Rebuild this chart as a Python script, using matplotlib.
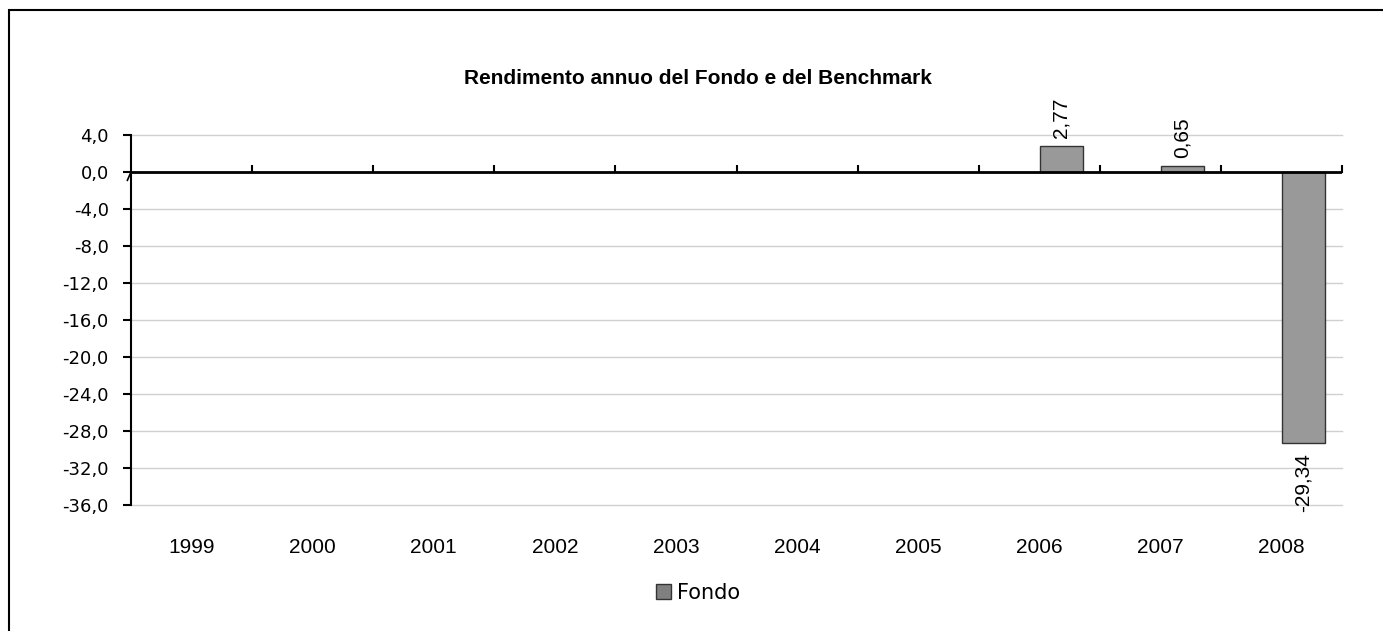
import numpy as np
import matplotlib
matplotlib.use("Agg")
import matplotlib.pyplot as plt
from matplotlib.patches import Rectangle

# dati
anni = ["1999", "2000", "2001", "2002", "2003", "2004", "2005", "2006", "2007", "2008"]
fondo = [np.nan, np.nan, np.nan, np.nan, np.nan, np.nan, np.nan, 2.77, 0.65, -29.34]
yticks = [4, 0, -4, -8, -12, -16, -20, -24, -28, -32, -36]

fig = plt.figure(figsize=(13.83, 6.31), dpi=100)
ax = fig.add_axes([131/1383, 1-505/631, (1342-131)/1383, (505-135)/631])

x = np.arange(len(anni))
barre = ax.bar(x + 0.18, fondo, width=0.355, color="#999999", edgecolor="#333333",
               linewidth=1, label="Fondo", zorder=3)

# etichette dei valori
for xi, v in zip(x, fondo):
    if np.isnan(v):
        continue
    testo = ("%.2f" % v).replace(".", ",")
    if v >= 0:
        ax.annotate(testo, (xi + 0.18, v), xytext=(0, 6), textcoords="offset points",
                    rotation=90, ha="center", va="bottom", fontsize=15, family="Liberation Sans")
    else:
        ax.annotate(testo, (xi + 0.18, v), xytext=(0, -7), textcoords="offset points",
                    rotation=90, ha="center", va="top", fontsize=15, family="Liberation Sans")

ax.set_xlim(-0.5, len(anni) - 0.5)
ax.set_ylim(-36, 4)
ax.set_yticks(yticks)
ax.set_yticklabels([("%.1f" % t).replace(".", ",") for t in yticks],
                   fontsize=13, family="DejaVu Sans")
ax.tick_params(axis="y", length=6, width=1.5, pad=10, direction="out")

for t in yticks:
    if t != 0:
        ax.axhline(t, color="#d0d0d0", lw=1, zorder=1, clip_on=False)

ax.set_xticks(x)
ax.set_xticklabels(anni, fontsize=15, family="Liberation Sans")
ax.tick_params(axis="x", length=0, pad=24)

for s in ["top", "right", "bottom"]:
    ax.spines[s].set_visible(False)
ax.spines["left"].set_linewidth(1.5)

# asse orizzontale sullo zero
sec = ax.secondary_xaxis((0 - (-36)) / 40)
sec.set_xticks(np.arange(0.5, len(anni), 1))
sec.set_xticklabels([])
sec.tick_params(axis="x", direction="out", length=5, width=1.5)
sec.spines["bottom"].set_linewidth(2)
ax.axhline(0, color="black", lw=2, zorder=4)
# piccolo segno di interruzione a sinistra
ax.plot([-0.53, -0.5], [-0.9, 0], color="black", lw=1.2, clip_on=False, zorder=5)

fig.text(698/1383, 1-78/631, "Rendimento annuo del Fondo e del Benchmark",
         ha="center", va="center", fontsize=15, fontweight="bold", family="Liberation Sans")

leg = fig.legend(handles=[barre], labels=["Fondo"], loc="center",
                 bbox_to_anchor=(698/1383, 1-593/631),
                 frameon=False, handlelength=0.75, handleheight=0.75, handletextpad=0.3,
                 prop={"family": "DejaVu Sans", "size": 15})
for h in leg.legend_handles:
    h.set_facecolor("#808080")

# bordo
fig.patches.append(Rectangle((9/1383, -0.1), 1.2, 1.1 - 10/631, transform=fig.transFigure,
                             fill=False, edgecolor="black", lw=1.5))

plt.savefig("out.png", dpi=100)
